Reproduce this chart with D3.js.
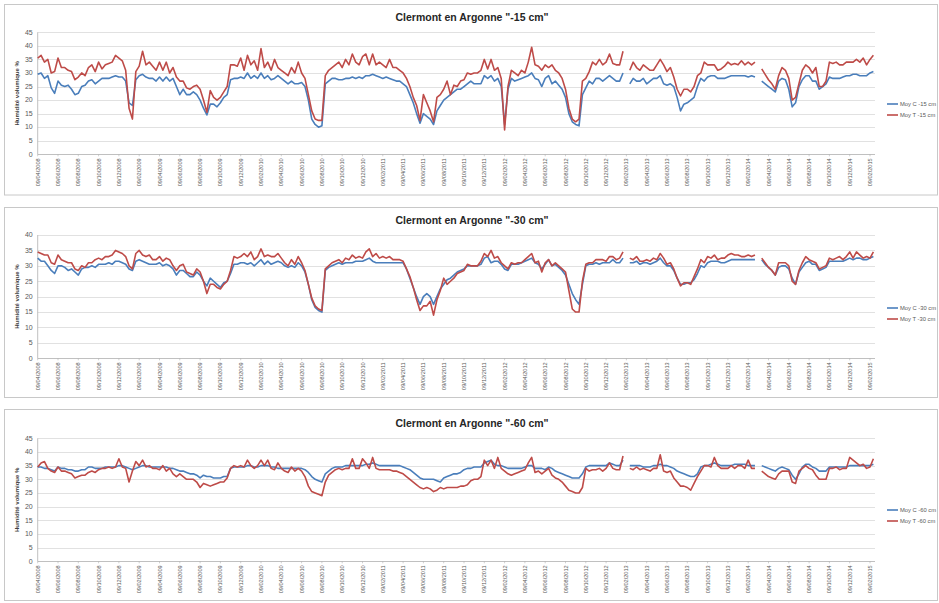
<!DOCTYPE html>
<html><head><meta charset="utf-8">
<script src="https://cdn.jsdelivr.net/npm/d3@7/dist/d3.min.js"></script>
<style>body{margin:0;background:#fff}svg{display:block}</style>
</head><body><svg id="c" width="939" height="603"></svg>
<script>
const tickLabels = ["09/04/2008","09/06/2008","09/08/2008","09/10/2008","09/12/2008",
"09/02/2009","09/04/2009","09/06/2009","09/08/2009","09/10/2009","09/12/2009",
"09/02/2010","09/04/2010","09/06/2010","09/08/2010","09/10/2010","09/12/2010",
"09/02/2011","09/04/2011","09/06/2011","09/08/2011","09/10/2011","09/12/2011",
"09/02/2012","09/04/2012","09/06/2012","09/08/2012","09/10/2012","09/12/2012",
"09/02/2013","09/04/2013","09/06/2013","09/08/2013","09/10/2013","09/12/2013",
"09/02/2014","09/04/2014","09/06/2014","09/08/2014","09/10/2014","09/12/2014",
"09/02/2015"];
const samplesPerTick = 6;

const t15 = [35.5,36.5,34,35,30,30.5,35.5,32,32,31,30.5,27.5,
28.5,30,29,32,33,30.5,34,31.5,33,33.5,34,36.5,
35.5,34.5,31,17,13,30.5,32.5,38,33,34,32.5,31,
34,31,34,30,32,28.5,27,27,24.5,24,25,25.5,
24,20,15.5,23.5,21,20,21,23,25,33,33,32.5,
35.5,31,36.5,33,34.5,31,39,32,34,31,35,32,
31,30,29,32,30,34,30,28,22,16,13,12.5,
12.5,29,31,32,33,34,32,35,33,37,34,33,
36,37,33,37,33,34,33,32,35,32,32,31,
30,28,25,21,18,12.5,22,19,16,12,21,22,
24,27,22,25.5,25,27,27.5,30,29.5,30,30,31,
35,31.5,35,31,32,28,9,25,31,30,29,31,
30,34,39.5,33,32.5,31,33,32,33,31,30,28,
24,17,13,12,13,27,28,30.5,34,33,35,33,
34,37,33.5,33,33,38,null,31,34,32,31,33,
32,31,31,33,35,33,30.5,32,28.5,24,21.5,24,
24,23,25,29,30,34,33,33,33,31,31.5,32.5,
34,33,33.5,33,34.5,33,34,33,34,null,31.5,29.5,
27.5,26,24,29,32,31,28,20,21,26,31,33,
32,30,32,25,25,27,34,33.5,34,33,33,34,
34,34,35,34,35.5,33,35,36.5];

const c15 = [29.5,30,28,29,24.5,22.5,27,25.5,25,25.5,24,22,
22.5,25,25.5,27,27.5,26,27,28,28,28,28.5,29,
28.5,28.5,27,19,18,27.5,29,29.5,28.5,28,28,27,
28.5,27,28.5,27,28,25,22,24,22,22,23,22,
20,17,14.5,18.5,18.5,17.5,19,21,22,27.5,28,28,
28.5,28,30,28,29,28,30,28,29,27.5,28,29,
28,27,26,27,26,26,26.5,25,20,13,11,10,
10.5,26,27,28,28,27.5,27.5,28,28,28.5,28,28.5,
28,29,29,29.5,29,28.5,28,28.5,28,27.5,27,27,
26,25,22,19,15,11.5,15,14,13,11,16,18,
20,21,22,23,24,24,25,26,27,26,26,26,
29,28,29,27,28,25,11,24,28,27,27.5,28,
28.5,29,30,28,27.5,25,28,29,26,27,25.5,24,
21,15,12,11,10.5,22,24.5,27,26,28,28,27,
28,29,28,27,27,30,null,26,28,27,27,28,
26,27,28,28,29,26,25.5,26,25,21,16,18.5,
19,20,21,25,28,27,28.5,29,29,28,28,28,
28.5,29,29,29,29,29,28.5,29,28.5,null,27,26,
25,24,23,27,28,27.5,24,17.5,19,25,27.5,29,
29,27,27,24,25,26,28.5,28,28,28,28.5,29,
29,29.5,29.5,29,29,29,30,30.5];

const t30 = [34.5,34,33.5,33.5,31,30.5,33.5,32,31.5,31,31,29,
28.5,30,29.5,31,31,32,32.5,32,33,33,33.5,35,
34.5,34,33,30,29,34,35,33.5,33,33.5,32,32,
33,31.5,32.5,32,30,28.5,30,30.5,28,27.5,27,29,
28,25,21,24,24,23,22.5,24,25,28.5,33,32.5,
33,34,33,34.5,32,33,35.5,33,33.5,33,33,34,
32.5,31,30,32,30.5,33,31,28.5,24,19.5,17,16,
15.5,29,30,31,31.5,32,31,32.5,32,33.5,32.5,33,
32.5,34.5,35.5,33,34,32.5,33,32.5,33,32,32,32,
31.5,29,26.5,23,19,15.5,17,17,18.5,14,19,22,
26,24,25,26,27.5,28,28.5,30.5,30,30,30,31.5,
34,33,35,32.5,33,31,30,29,31,30.5,31,31,
32,33,34,31,31.5,28,31,32,30,31,30,29,
28,22,16,15,15,25,30.5,31,31,32,32,32,
31.5,33,33,32,32.5,34.5,null,32.5,32,33,31.5,31.5,
32,31.5,32.5,32,34,32.5,30.5,31,29,26,23.5,24.5,
24.5,24,26.5,29,32,31,33,32.5,33.5,32,32.5,32.5,
33.5,34,33.5,33.5,33,33,33.5,33,33.5,null,32.5,31,
29.5,28.5,27,31,31,31,30,25,24,28.5,31,33,
32,31.5,31,29,29.5,30,32.5,32,32.5,33,32,33,
34.5,32.5,34.5,33.5,32.5,33,32.5,34.5];

const c30 = [32.5,31.5,31.5,30,28.5,27.5,30,30,29.5,28.5,29,28,
27,29,29.5,29.5,30,29.5,30.5,30.5,30.5,31,30.5,31.5,
31.5,31,30.5,29,28.5,31.5,32,31.5,31,30.5,30.5,30.5,
31,30,30.5,30,29,27,28.5,28.5,27.5,26.5,26.5,28,
27,25,23.5,26,25,24,23,24.5,25,27.5,30.5,30.5,
31,31,30.5,31,30,31,32,30.5,31.5,30.5,31,31.5,
31,30,29.5,30,29.5,31,30,28,24,19,16.5,15.5,
15,28.5,29.5,30,30.5,31,30.5,31,31,31,31.5,31.5,
31.5,32,32.5,31.5,31,31,31,31,31,31,31,31,
31,29,26,23,20,17.5,20,21,20,17.5,20,22.5,
24,25.5,26,27,28,28.5,29,30,30,30,30,30.5,
32.5,33,31,31.5,31.5,30.5,29,28.5,30.5,30.5,30.5,31,
31.5,32,32.5,31,30.5,29,30.5,32,30,30.5,29.5,28.5,
27,24,21,19,17.5,24,30,30.5,30.5,31,30.5,31,
31,31,32,31,31,32.5,null,31,31,31.5,30.5,31,
31,30.5,31,31.5,32.5,31,30,30,28.5,26,24,24,
24.5,24.5,25.5,27.5,30,29.5,31,31.5,31.5,31.5,31,31,
31.5,32,32,32,32,32,32,32,32,null,32,30.5,
29.5,28.5,27,29.5,30,30,29,26,24,28,29.5,31,
31.5,30.5,30.5,28.5,29,29.5,31.5,31.5,31.5,31.5,31.5,32,
32.5,32,32.5,32.5,32,32,32.5,33];

const t60 = [34.5,36,36.5,34,33,32.5,34.5,33,33,32.5,32,30.5,
31,31.5,31.5,32.5,33,32.5,33.5,34,34,34.5,34,34.5,
37.5,34.5,34,29,33,36.5,35,37,34.5,35,34,34,
33.5,35,33,34,32,31,32,31,30,30,30,29,
27,28.5,28,27.5,28,28.5,29,29,30.5,34,35,34.5,
35,34.5,37,35,34,35,37,35,37,34,33.5,36,
34,33,32.5,34.5,33,34,33,31,27.5,25.5,25,24.5,
24,29,31.5,32.5,33.5,34,33.5,34,34,37.5,34,34,
37.5,36,34,38,34,33.5,33.5,33.5,33.5,33,33,32.5,
32,31,30,29,28,27,26.5,27,26.5,25.5,26,27,
26.5,27,27,27,27,27.5,27.5,28,29.5,30,30,31,
37,35,37,34,38,34,33,32,31.5,32,32.5,33,
33.5,36,38,32.5,33,32,33,34,31.5,30.5,30,29,
27.5,26,25.5,25,25,27,34,33,33.5,33.5,34,33,
34,36,34,33.5,33.5,38.5,null,34,33.5,34.5,33.5,34,
33.5,33,34,34,39,33,32.5,33,30.5,29,27.5,27.5,
27,26,28.5,31,33,35,35,34.5,38,35,34,34,
34,35,34,35,35,34,37,34,34,null,33,32,
31,30.5,30,32,33,33,33,29,28.5,33,34,35,
34,33.5,31.5,30,30,30,34,34,34.5,33.5,34,34,
38,37,36,35,35.5,34,34.5,37.5];

const c60 = [34.5,34.5,34,34,33.5,33,34.5,34,34,33.5,33.5,33,
33,33.5,33.5,34.5,34.5,34,34,34,34.5,34.5,34.5,34.5,
35,35,34.5,34,33.5,34,34.5,35,35,34.5,34.5,34.5,
34.5,34.5,34.5,34,34,33.5,33,33,32.5,32,32,31.5,
30.5,31.5,31,31,30.5,30.5,30.5,31,31,34,34.5,34.5,
34.5,34.5,35,35,34.5,34.5,35,35,35,34.5,34.5,34,
34,34,34,34,34,34,34,33.5,32.5,31,30,29.5,
29,32,33,34,34.5,34.5,34.5,35,35,35,35,35,
35,35.5,35.5,36,35.5,35,35,35,35,35,35,35,
34.5,34,33.5,32.5,31.5,30.5,30,30,30,30,29.5,29,
30.5,31,31.5,32,32,32.5,33.5,34,34,34.5,34.5,34.5,
36,36.5,37,35.5,35,35,34.5,34,34,34,34,34,
34.5,35,35,34,34,34,33.5,34.5,34,33,32.5,32,
31.5,31,30.5,30.5,30.5,32,34.5,35,35,35,35,35,
35,36,35.5,35,35,37,null,35,35,35,35,34.5,
34.5,34.5,35,35,35.5,35,35,34.5,34,33,32.5,32,
31.5,31,31,32,34.5,35,35,35.5,36,35.5,35,35,
35,35,35.5,35.5,35.5,35.5,35,35,35,null,35,34.5,
34,33.5,33,34,34.5,34,33.5,31.5,30,32,34.5,35.5,
35.5,34.5,34,33,33,33,34.5,34.5,34.5,34.5,34.5,34.5,
35,35,35,35,35,35,35,35.5];

const panels = [
  {title:'Clermont en Argonne "-15 cm"', c:c15, t:t15, cName:"Moy C -15 cm", tName:"Moy T -15 cm",
   yMax:45, box:[4.5,4.5,933,190.5], yTop:32.3, yBot:154.3, titleY:21, legY:104},
  {title:'Clermont en Argonne "-30 cm"', c:c30, t:t30, cName:"Moy C -30 cm", tName:"Moy T -30 cm",
   yMax:40, box:[4.5,207.5,933,190], yTop:235, yBot:358.3, titleY:224, legY:308},
  {title:'Clermont en Argonne "-60 cm"', c:c60, t:t60, cName:"Moy C -60 cm", tName:"Moy T -60 cm",
   yMax:45, box:[4.5,409.5,933,191], yTop:438.3, yBot:561.3, titleY:427, legY:510}
];

const svg = d3.select("#c");
const nTicks = tickLabels.length;
const x = d3.scaleLinear().domain([0,(nTicks-1)*samplesPerTick]).range([37.7,870]);
const plotRight = 875;
const blue = "#4a7ebb", red = "#be4b48";
const font = "Liberation Sans, Arial, sans-serif";

panels.forEach(p => {
  const g = svg.append("g");
  g.append("rect").attr("x",p.box[0]).attr("y",p.box[1]).attr("width",p.box[2]).attr("height",p.box[3])
    .attr("fill","#fff").attr("stroke","#c8c8c8").attr("stroke-width",1);
  const y = d3.scaleLinear().domain([0,p.yMax]).range([p.yBot,p.yTop]);
  const yt = d3.range(0,p.yMax+1,5);
  g.selectAll(".grid").data(yt).join("line")
    .attr("x1",x(0)).attr("x2",plotRight).attr("y1",d=>Math.round(y(d))+0.5).attr("y2",d=>Math.round(y(d))+0.5)
    .attr("stroke", d=> d===0 ? "#b0b0b0" : "#d9d9d9").attr("stroke-width",0.8);
  g.append("line").attr("x1",x(0)).attr("x2",x(0)).attr("y1",p.yTop).attr("y2",p.yBot)
    .attr("stroke","#b0b0b0").attr("stroke-width",0.8);
  g.selectAll(".yl").data(yt).join("text")
    .attr("x",x(0)-5).attr("y",d=>y(d)+2.3).attr("text-anchor","end")
    .attr("font-family",font).attr("font-size",7).attr("fill","#595959")
    .text(d=>d);
  g.selectAll(".xt").data(tickLabels).join("line")
    .attr("x1",(d,i)=>x(i*samplesPerTick)).attr("x2",(d,i)=>x(i*samplesPerTick))
    .attr("y1",p.yBot).attr("y2",p.yBot+2).attr("stroke","#b0b0b0").attr("stroke-width",0.6);
  g.selectAll(".xl").data(tickLabels).join("text")
    .attr("transform",(d,i)=>`translate(${x(i*samplesPerTick)+2},${p.yBot+4}) rotate(-90)`)
    .attr("text-anchor","end")
    .attr("font-family",font).attr("font-size",5.6).attr("fill","#595959")
    .text(d=>d);
  g.append("text").attr("transform",`translate(19,${(p.yTop+p.yBot)/2}) rotate(-90)`)
    .attr("text-anchor","middle").attr("font-family",font)
    .attr("font-size",6).attr("font-weight","bold").attr("fill","#404040")
    .text("Humidité volumique %");
  g.append("text").attr("x",472).attr("y",p.titleY).attr("text-anchor","middle")
    .attr("font-family",font).attr("font-size",10.5).attr("font-weight","bold")
    .attr("fill","#262626").text(p.title);
  const line = d3.line().defined(d=>d!=null).x((d,i)=>x(i)).y(d=>y(d));
  g.append("path").datum(p.c).attr("d",line).attr("fill","none").attr("stroke",blue)
    .attr("stroke-width",1.6).attr("stroke-linejoin","round");
  g.append("path").datum(p.t).attr("d",line).attr("fill","none").attr("stroke",red)
    .attr("stroke-width",1.6).attr("stroke-linejoin","round");
  const lg = [[p.cName,blue],[p.tName,red]];
  lg.forEach((L,k)=>{
    const ly = p.legY + k*11;
    g.append("line").attr("x1",887).attr("x2",898).attr("y1",ly).attr("y2",ly)
      .attr("stroke",L[1]).attr("stroke-width",1.6);
    g.append("text").attr("x",900).attr("y",ly+2).attr("font-family",font)
      .attr("font-size",5.8).attr("fill","#595959").text(L[0]);
  });
});
</script></body></html>
